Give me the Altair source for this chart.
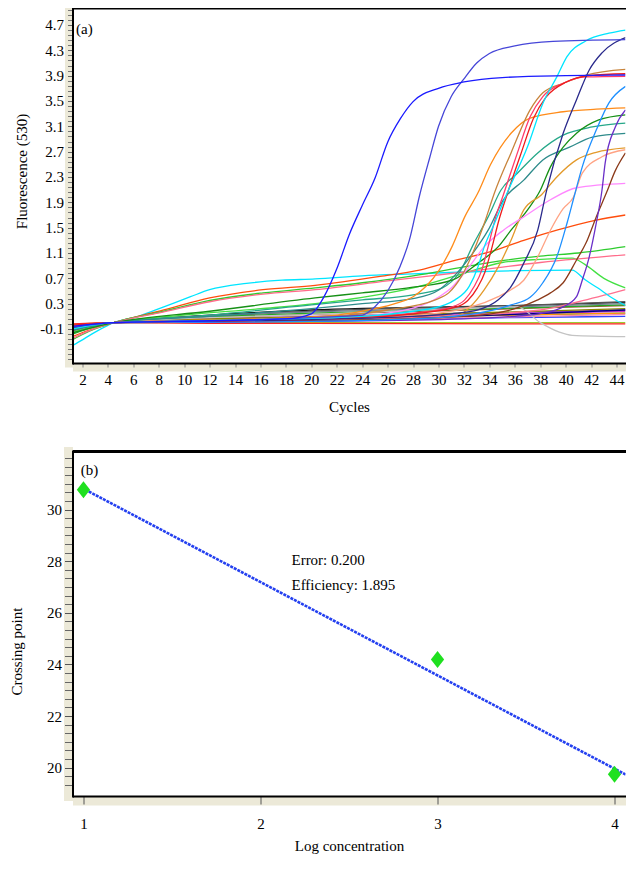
import altair as alt
import pandas as pd

FONT = "Liberation Serif"
BEIGE = "#ece9d8"

# ---------------- panel (a): amplification curves ----------------
x_ticks_a = list(range(2, 45, 2))
y_major_a = [-0.1, 0.3, 0.7, 1.1, 1.5, 1.9, 2.3, 2.7, 3.1, 3.5, 3.9, 4.3, 4.7]
x_dom_a = [1.22, 44.7]
y_dom_a = [-0.637, 4.968]
y_minor_a = [round(-0.1 + 0.08 * k, 2) for k in range(-6, 64)]

# baseline bundle (shared cycles)
base_c = [1.22, 4.46, 12, 20, 36, 44.7]
black_v = [-0.10, 0, 0.12, 0.20, 0.27, 0.32]
dimgray_v = [-0.12, 0, 0.10, 0.18, 0.27, 0.33]
purple2_v = [-0.10, 0, 0.06, 0.10, 0.16, 0.20]
magenta_v = [-0.09, 0, 0.05, 0.08, 0.14, 0.18]
tealdk_v = [-0.14, 0, 0.04, 0.06, 0.12, 0.15]
blue2_v = [-0.07, 0, 0.02, 0.03, 0.08, 0.10]
olive_v = [-0.11, 0, 0.06, 0.09, 0.17, 0.22]
orange2_v = [-0.09, 0, 0.04, 0.07, 0.12, 0.15]
yelgrn_v = [-0.03, 0, 0.0, 0.0, 0.0, 0.0]
red2_v = [-0.02, 0, -0.01, -0.01, -0.02, -0.02]
sienna_v = [-0.13, 0, 0.08, 0.13, 0.22, 0.27]
navy2_v = [-0.08, 0, 0.03, 0.05, 0.13, 0.20]
pink2_v = [-0.15, 0, 0.02, 0.04, 0.09, 0.13]
green2_v = [-0.18, 0, 0.09, 0.15, 0.23, 0.28]
slate_v = [-0.16, 0, 0.11, 0.17, 0.25, 0.30]

# drifting curves
cyan2_c = [1.22, 1.5, 3, 4.46, 6.4, 8.4, 10.5, 12, 14.9, 17.7, 20.3, 24, 28, 32, 36, 40.5, 41.5, 42.5, 43.5, 44.7]
cyan2_v = [-0.36, -0.33, -0.15, 0, 0.10, 0.25, 0.41, 0.52, 0.62, 0.67, 0.69, 0.74, 0.77, 0.80, 0.82, 0.83, 0.68, 0.55, 0.41, 0.27]
redor_c = [1.22, 2.5, 4.46, 8.4, 12, 16.2, 20.3, 25.4, 28.5, 31.6, 34.1, 36.7, 39.3, 42.4, 44.7]
redor_v = [-0.22, -0.12, 0, 0.20, 0.39, 0.52, 0.59, 0.73, 0.83, 1.00, 1.12, 1.30, 1.46, 1.62, 1.70]
g1_c = [1.22, 2.5, 4.46, 8.4, 12, 16.2, 20.3, 24, 28, 32, 35, 38, 41, 44.7]
g1_v = [-0.27, -0.14, 0, 0.18, 0.35, 0.47, 0.55, 0.63, 0.74, 0.88, 0.98, 1.05, 1.10, 1.20]
g2_c = [1.22, 4.46, 10, 16, 20.3, 24, 28, 32, 35, 38, 40.5, 41.5, 43, 44.7]
g2_v = [-0.15, 0, 0.12, 0.22, 0.30, 0.40, 0.55, 0.78, 0.95, 1.00, 1.02, 0.92, 0.70, 0.55]
pinkd_c = [1.22, 2.5, 4.46, 8.4, 12, 16.2, 20.3, 26, 32, 38, 44.7]
pinkd_v = [-0.25, -0.13, 0, 0.17, 0.33, 0.45, 0.52, 0.66, 0.80, 0.95, 1.07]
gray_c = [1.22, 4.46, 20, 32, 36.2, 38, 39.5, 40.5, 44.7]
gray_v = [-0.08, 0, 0.13, 0.22, 0.25, 0.0, -0.15, -0.20, -0.22]
coral_c = [1.22, 4.46, 20, 30, 38, 41, 44.7]
coral_v = [-0.05, 0, 0.05, 0.10, 0.20, 0.33, 0.52]

# amplification curves
blue_a_c = [1.22, 4.46, 12, 18, 20, 21, 22, 23, 24, 25, 26, 27, 28, 30, 32, 35, 40, 44.7]
blue_a_v = [-0.06, 0, 0.03, 0.06, 0.14, 0.41, 0.85, 1.40, 1.85, 2.28, 2.85, 3.22, 3.49, 3.70, 3.80, 3.87, 3.90, 3.91]
blue_b_c = [1.22, 4.46, 14, 20, 24, 25, 26, 27, 27.7, 28.5, 29.3, 30, 31, 32, 33, 34, 36, 39, 44.7]
blue_b_v = [-0.07, 0, 0.04, 0.08, 0.12, 0.25, 0.50, 0.90, 1.30, 2.00, 2.60, 3.10, 3.57, 3.85, 4.10, 4.25, 4.37, 4.44, 4.47]
cyan_c = [1.22, 4.46, 16, 24, 28, 30.5, 31.3, 32.4, 33.1, 33.6, 34.4, 35.4, 37.0, 38.2, 39.3, 40.1, 41.6, 43.4, 44.7]
cyan_v = [-0.10, 0, 0.05, 0.10, 0.18, 0.28, 0.36, 0.57, 0.88, 1.20, 1.57, 2.05, 2.78, 3.46, 3.88, 4.20, 4.45, 4.57, 4.62]
navy_c = [1.22, 4.46, 20, 28, 31, 33.1, 34.7, 35.7, 36.7, 37.8, 38.5, 39.8, 40.85, 41.85, 42.85, 44.7]
navy_v = [-0.08, 0, 0.05, 0.10, 0.14, 0.20, 0.36, 0.57, 0.94, 1.46, 2.09, 2.99, 3.52, 3.99, 4.26, 4.50]
orange_c = [1.22, 4.46, 16, 22, 25, 26.7, 28, 29, 30.05, 31.06, 32.06, 33.1, 34.1, 35.7, 37.2, 39.8, 42.4, 44.7]
orange_v = [-0.06, 0, 0.06, 0.12, 0.22, 0.31, 0.41, 0.57, 0.83, 1.20, 1.67, 2.05, 2.50, 2.99, 3.23, 3.33, 3.37, 3.39]
peru_c = [1.22, 4.46, 18, 26, 29.75, 30.8, 31.8, 32.8, 33.6, 34.4, 35.7, 37.2, 38.2, 39.8, 41.6, 44.7]
peru_v = [-0.07, 0, 0.06, 0.20, 0.36, 0.47, 0.73, 1.15, 1.57, 2.05, 2.68, 3.36, 3.63, 3.78, 3.91, 4.00]
pink_c = [1.22, 4.46, 20, 28, 31.06, 32.06, 32.8, 33.4, 33.9, 34.5, 35.1, 36.2, 37.2, 38.2, 39.8, 41.6, 44.7]
pink_v = [-0.05, 0, 0.06, 0.15, 0.25, 0.36, 0.57, 0.83, 1.20, 1.67, 2.02, 2.68, 3.25, 3.57, 3.78, 3.88, 3.89]
red_c = [1.22, 4.46, 20, 28, 31.3, 32.3, 33.05, 33.65, 34.15, 34.75, 35.35, 36.45, 37.45, 38.45, 40.05, 41.85, 44.7]
red_v = [-0.04, 0, 0.05, 0.14, 0.24, 0.35, 0.55, 0.80, 1.15, 1.62, 2.00, 2.65, 3.22, 3.56, 3.80, 3.90, 3.93]
teal1_c = [1.22, 4.46, 12, 20, 24, 28, 30.3, 31.6, 32.8, 33.9, 34.9, 36.2, 37.8, 39.8, 42.1, 44.7]
teal1_v = [-0.10, 0, 0.12, 0.28, 0.36, 0.44, 0.55, 0.78, 1.26, 1.67, 2.09, 2.36, 2.68, 2.96, 3.09, 3.15]
teal2_c = [1.22, 4.46, 12, 20, 24, 28, 30.05, 31.3, 32.6, 33.9, 35.1, 36.7, 38.2, 40.3, 42.1, 44.7]
teal2_v = [-0.12, 0, 0.10, 0.22, 0.30, 0.38, 0.52, 0.75, 1.07, 1.46, 1.94, 2.25, 2.57, 2.77, 2.93, 2.99]
green_c = [1.22, 4.46, 12, 20.3, 24, 28, 31.06, 33.1, 34.7, 35.7, 37.0, 38.0, 38.8, 39.8, 40.85, 42.6, 44.7]
green_v = [-0.16, 0, 0.18, 0.39, 0.47, 0.56, 0.67, 0.94, 1.20, 1.46, 1.78, 2.09, 2.46, 2.77, 2.99, 3.20, 3.28]
gold_c = [1.22, 4.46, 20, 28, 31.3, 32.5, 33.6, 34.7, 35.7, 36.7, 38.1, 39.3, 40.85, 42.4, 44.7]
gold_v = [-0.08, 0, 0.03, 0.06, 0.09, 0.25, 0.52, 0.88, 1.30, 1.78, 2.02, 2.30, 2.57, 2.69, 2.76]
dodger_c = [1.22, 4.46, 20, 30, 35.7, 37.2, 38.2, 39.3, 40.1, 40.7, 41.3, 42.4, 43.4, 44.7]
dodger_v = [-0.06, 0, 0.02, 0.08, 0.28, 0.40, 0.63, 1.04, 1.57, 2.02, 2.46, 3.04, 3.47, 3.73]
salmon_c = [1.22, 4.46, 20, 30, 34.7, 35.7, 36.7, 37.8, 38.8, 39.8, 40.6, 41.3, 42.85, 44.7]
salmon_v = [-0.07, 0, 0.04, 0.15, 0.41, 0.52, 0.67, 1.04, 1.46, 1.80, 1.98, 2.36, 2.62, 2.73]
violet_c = [1.22, 4.46, 20, 26, 30.05, 31.06, 32.4, 33.6, 35.1, 36.7, 38.8, 40.85, 44.7]
violet_v = [-0.06, 0, 0.05, 0.15, 0.41, 0.56, 0.88, 1.20, 1.46, 1.67, 1.94, 2.13, 2.20]
purple_c = [1.22, 4.46, 20, 32, 36, 38.2, 39.8, 40.85, 41.3, 41.85, 42.4, 42.85, 43.1, 43.9, 44.7]
purple_v = [-0.07, 0, 0.02, 0.06, 0.10, 0.15, 0.25, 0.41, 0.67, 1.04, 1.57, 2.09, 2.52, 3.09, 3.36]
brown_c = [1.22, 4.46, 20, 32, 36, 37.8, 38.8, 39.8, 40.85, 41.6, 42.4, 43.2, 43.9, 44.7]
brown_v = [-0.08, 0, 0.03, 0.10, 0.22, 0.36, 0.47, 0.63, 0.99, 1.26, 1.67, 2.05, 2.40, 2.68]

series_a = [
    ("black", "#111111", base_c, black_v),
    ("dimgray", "#555555", base_c, dimgray_v),
    ("purple2", "#9933cc", base_c, purple2_v),
    ("magenta", "#cc33cc", base_c, magenta_v),
    ("tealdk", "#208080", base_c, tealdk_v),
    ("blue2", "#3344ff", base_c, blue2_v),
    ("olive", "#888800", base_c, olive_v),
    ("orange2", "#ff9900", base_c, orange2_v),
    ("yelgrn", "#99cc33", base_c, yelgrn_v),
    ("red2", "#ff2020", base_c, red2_v),
    ("sienna", "#a0522d", base_c, sienna_v),
    ("navy2", "#000080", base_c, navy2_v),
    ("pink2", "#ff88aa", base_c, pink2_v),
    ("green2", "#22aa22", base_c, green2_v),
    ("slate", "#708090", base_c, slate_v),
    ("gray", "#c4c4c4", gray_c, gray_v),
    ("coral", "#ff7090", coral_c, coral_v),
    ("cyan2", "#00e5ff", cyan2_c, cyan2_v),
    ("redor", "#ff4d0d", redor_c, redor_v),
    ("g1", "#2ecc2e", g1_c, g1_v),
    ("g2", "#44e044", g2_c, g2_v),
    ("pinkd", "#ff6b8a", pinkd_c, pinkd_v),
    ("teal1", "#26a889", teal1_c, teal1_v),
    ("teal2", "#2e8b8b", teal2_c, teal2_v),
    ("green", "#169016", green_c, green_v),
    ("gold", "#e39a2b", gold_c, gold_v),
    ("salmon", "#ffa384", salmon_c, salmon_v),
    ("violet", "#ff88ff", violet_c, violet_v),
    ("brown", "#8b3a1a", brown_c, brown_v),
    ("purple", "#6a2fc8", purple_c, purple_v),
    ("dodger", "#1e90ff", dodger_c, dodger_v),
    ("orange", "#ff8c1a", orange_c, orange_v),
    ("peru", "#c8843c", peru_c, peru_v),
    ("pink", "#ff3b6b", pink_c, pink_v),
    ("red", "#ee1c1c", red_c, red_v),
    ("navy", "#2a2a8c", navy_c, navy_v),
    ("cyan", "#00e5ff", cyan_c, cyan_v),
    ("blue_b", "#4646d8", blue_b_c, blue_b_v),
    ("blue_a", "#1a1aff", blue_a_c, blue_a_v),
]

label_a_x = [1.5]
label_a_y = [4.64]

# ---------------- panel (b): standard curve ----------------
pts_x = [1, 3, 4]
pts_y = [30.77, 24.19, 19.74]
reg_x = [1.03, 4.085]
reg_y = [30.70, 19.65]
x_ticks_b = [1, 2, 3, 4]
y_major_b = [20, 22, 24, 26, 28, 30]
y_minor_b = [round(20 + k / 3, 4) for k in range(-2, 37)]
x_dom_b = [0.938, 4.062]
y_dom_b = [18.9, 32.27]
note_text = ["Error: 0.200", "Efficiency: 1.895"]
note_x = [2.175, 2.175]
note_y = [28.06, 27.06]
label_b_x = [0.985]
label_b_y = [31.55]

W = 553
HA = 355
HB = 345

# ---------- build tables ----------
rows = []
for name, col, cs, vs in series_a:
    for i, (c, v) in enumerate(zip(cs, vs)):
        rows.append({"curve": name, "cycle": c, "value": v, "i": i})
df_a = pd.DataFrame(rows)
names = [s[0] for s in series_a]
colors = [s[1] for s in series_a]

txt = dict(labelFont=FONT, labelFontSize=15, labelColor="black",
           titleFont=FONT, titleFontSize=15, titleFontWeight="normal",
           titleColor="black", grid=False, labelOverlap=False,
           labelFlush=False, domainColor="black", domainWidth=2, zindex=1)
band_common = dict(ticks=False, labels=False, title=None, grid=False,
                   domainColor=BEIGE, zindex=0)
minor_common = dict(labels=False, title=None, grid=False, domain=False,
                    zindex=1)
frame_top = dict(orient="top", ticks=False, labels=False, title=None,
                 grid=False, domainColor="black", domainCap="butt", zindex=1)


def layers(sx, sy, mid, band_w, minor_vals, minor_size, minor_color, top_w):
    band = alt.Chart(mid).mark_point(opacity=0, size=1).encode(
        x=alt.X("x:Q", scale=sx, axis=alt.Axis(orient="bottom", domainWidth=band_w,
                                                offset=band_w / 2, domainCap="butt",
                                                **band_common)),
        y=alt.Y("y:Q", scale=sy, axis=alt.Axis(orient="left", domainWidth=band_w,
                                                offset=band_w / 2, domainCap="square",
                                                **band_common)),
    )
    minor = alt.Chart(mid).mark_point(opacity=0, size=1).encode(
        x=alt.X("x:Q", scale=sx, axis=None),
        y=alt.Y("y:Q", scale=sy, axis=alt.Axis(orient="left", values=minor_vals,
                                                tickSize=minor_size,
                                                tickColor=minor_color,
                                                **minor_common)),
    )
    top = alt.Chart(mid).mark_point(opacity=0, size=1).encode(
        x=alt.X("x:Q", scale=sx, axis=alt.Axis(domainWidth=top_w, **frame_top)),
        y=alt.Y("y:Q", scale=sy, axis=None),
    )
    return band, minor, top


# ---------- panel a ----------
sx_a = alt.Scale(domain=x_dom_a, nice=False, zero=False)
sy_a = alt.Scale(domain=y_dom_a, nice=False, zero=False)
mid_a = pd.DataFrame({"x": [sum(x_dom_a) / 2], "y": [sum(y_dom_a) / 2]})

ax_xa = alt.Axis(orient="bottom", values=x_ticks_a, format="d", title="Cycles",
                 tickSize=4, tickColor="#888888", labelPadding=5,
                 titlePadding=12, domainCap="butt", **txt)
ax_ya = alt.Axis(orient="left", values=y_major_a, title="Fluorescence (530)",
                 labelExpr="(datum.value < 0 ? '-' : '') + format(abs(datum.value), '.1f')",
                 tickSize=5, tickColor="#666666", labelPadding=4,
                 titleX=-51, titleY=163, titleBaseline="middle",
                 domainCap="square", **txt)

lines_a = alt.Chart(df_a).mark_line(strokeWidth=1.3, interpolate="monotone",
                                    clip=True).encode(
    x=alt.X("cycle:Q", scale=sx_a, axis=ax_xa),
    y=alt.Y("value:Q", scale=sy_a, axis=ax_ya),
    color=alt.Color("curve:N", scale=alt.Scale(domain=names, range=colors),
                    legend=None),
    order=alt.Order("i:Q"),
)
band_a, minor_a, top_a = layers(sx_a, sy_a, mid_a, 8, y_minor_a, 5, "#777777", 2)
lab_a = alt.Chart(pd.DataFrame({"x": label_a_x, "y": label_a_y, "t": ["(a)"]})).mark_text(
    font=FONT, fontSize=15, align="left", baseline="middle", color="black"
).encode(
    x=alt.X("x:Q", scale=sx_a, axis=None),
    y=alt.Y("y:Q", scale=sy_a, axis=None),
    text="t:N",
)
panel_a = alt.layer(band_a, minor_a, lines_a, top_a, lab_a).resolve_axis(
    x="independent", y="independent").properties(width=W, height=HA)

# ---------- panel b ----------
sx_b = alt.Scale(domain=x_dom_b, nice=False, zero=False)
sy_b = alt.Scale(domain=y_dom_b, nice=False, zero=False)
mid_b = pd.DataFrame({"x": [sum(x_dom_b) / 2], "y": [sum(y_dom_b) / 2]})

ax_xb = alt.Axis(orient="bottom", values=x_ticks_b, format="d",
                 title="Log concentration", tickSize=8, tickColor="#555555",
                 labelPadding=12, titlePadding=7, domainCap="butt", **txt)
ax_yb = alt.Axis(orient="left", values=y_major_b, format="d",
                 title="Crossing point", tickSize=8, tickColor="#555555",
                 labelPadding=3, titleX=-56, titleY=200, titleBaseline="middle",
                 domainCap="square", **txt)

reg = alt.Chart(pd.DataFrame({"x": reg_x, "y": reg_y})).mark_line(
    color="#2440f0", strokeWidth=2.6, strokeDash=[3, 1], clip=True).encode(
    x=alt.X("x:Q", scale=sx_b, axis=ax_xb),
    y=alt.Y("y:Q", scale=sy_b, axis=ax_yb),
)
pts = alt.Chart(pd.DataFrame({"x": pts_x, "y": pts_y})).mark_point(
    shape="M0,-1L0.78,0L0,1L-0.78,0Z", size=290, filled=True,
    color="#1fe01f", opacity=1
).encode(
    x=alt.X("x:Q", scale=sx_b, axis=None),
    y=alt.Y("y:Q", scale=sy_b, axis=None),
)
notes = alt.Chart(pd.DataFrame({"x": note_x, "y": note_y, "t": note_text})).mark_text(
    font=FONT, fontSize=15, align="left", baseline="middle", color="black"
).encode(
    x=alt.X("x:Q", scale=sx_b, axis=None),
    y=alt.Y("y:Q", scale=sy_b, axis=None),
    text="t:N",
)
lab_b = alt.Chart(pd.DataFrame({"x": label_b_x, "y": label_b_y, "t": ["(b)"]})).mark_text(
    font=FONT, fontSize=15, align="left", baseline="middle", color="black"
).encode(
    x=alt.X("x:Q", scale=sx_b, axis=None),
    y=alt.Y("y:Q", scale=sy_b, axis=None),
    text="t:N",
)
band_b, minor_b, top_b = layers(sx_b, sy_b, mid_b, 9, y_minor_b, 8, "#666666", 3)

panel_b = alt.layer(band_b, minor_b, reg, pts, notes, lab_b, top_b).resolve_axis(
    x="independent", y="independent").properties(width=W, height=HB)

chart = alt.vconcat(panel_a, panel_b, spacing=37).properties(
    padding={"left": 1.5, "top": 0, "right": 0, "bottom": 2},
    background="white",
).configure_view(stroke=None)

chart.save("out.html", embed_options={"renderer": "svg", "actions": False})
